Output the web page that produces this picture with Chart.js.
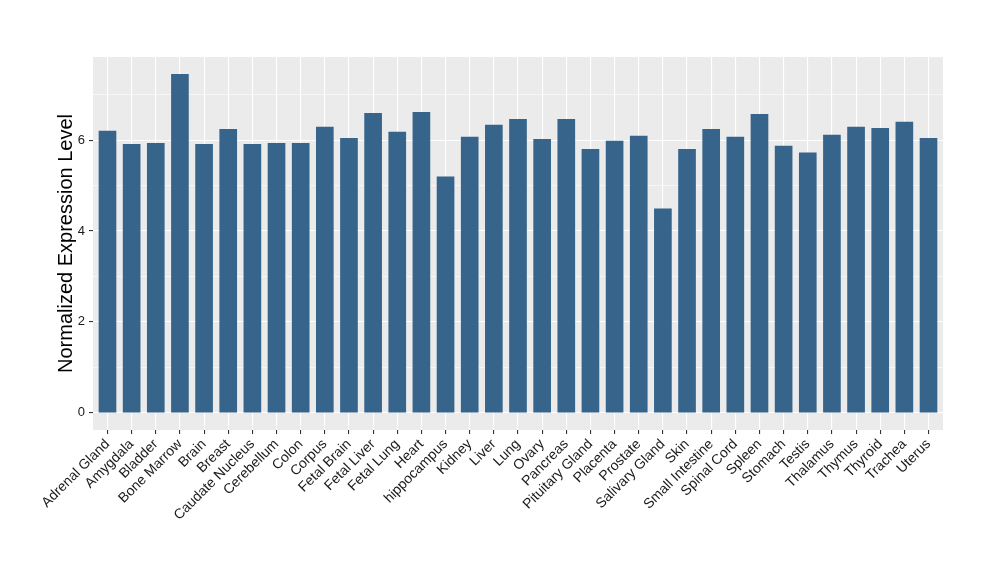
<!DOCTYPE html>
<html><head><meta charset="utf-8">
<script src="https://cdn.jsdelivr.net/npm/chart.js@4/dist/chart.umd.min.js"></script>
<style>html,body{margin:0;padding:0;background:#fff}#wrap{width:1000px;height:580px}</style>
</head><body><div id="wrap"><canvas id="c" width="1000" height="580"></canvas></div>
<script>
const categories = ["Adrenal Gland","Amygdala","Bladder","Bone Marrow","Brain","Breast","Caudate Nucleus","Cerebellum","Colon","Corpus","Fetal Brain","Fetal Liver","Fetal Lung","Heart","hippocampus","Kidney","Liver","Lung","Ovary","Pancreas","Pituitary Gland","Placenta","Prostate","Salivary Gland","Skin","Small Intestine","Spinal Cord","Spleen","Stomach","Testis","Thalamus","Thymus","Thyroid","Trachea","Uterus"];
const expression = [6.20,5.91,5.93,7.45,5.91,6.24,5.91,5.93,5.93,6.29,6.04,6.59,6.18,6.61,5.19,6.07,6.33,6.46,6.02,6.46,5.80,5.98,6.09,4.49,5.80,6.24,6.07,6.57,5.87,5.72,6.11,6.29,6.26,6.40,6.04];
const yTicks = [0,1,2,3,4,5,6,7];
const yLabelled = [0,2,4,6];

const panelBg = {
  id:'panelBg',
  beforeDraw(chart){
    const {ctx, chartArea:a} = chart;
    ctx.save(); ctx.fillStyle = '#EBEBEB';
    ctx.fillRect(a.left, a.top, a.right-a.left, a.bottom-a.top);
    ctx.restore();
  }
};

new Chart(document.getElementById('c'), {
  type:'bar',
  data:{ datasets:[{ data: expression.map((v,i)=>({x:i,y:v})), backgroundColor:'#36648B', borderWidth:0, barThickness:17 }] },
  options:{
    responsive:false, animation:false,
    layout:{padding:{top:57,right:57,left:0,bottom:0}},
    plugins:{legend:{display:false}, tooltip:{enabled:false}},
    scales:{
      x:{ type:'linear', offset:false, min:-0.6, max:categories.length-0.4,
        afterBuildTicks: ax => { ax.ticks = categories.map((_,i)=>({value:i})); },
        afterFit: ax => { ax.height = 150; },
        grid:{ offset:false, color:'#FFFFFF', lineWidth:1.1, tickColor:'#333333', tickLength:4, drawOnChartArea:true },
        border:{display:false},
        ticks:{ autoSkip:false, includeBounds:false, stepSize:1, maxRotation:45, minRotation:45, padding:2, color:'#1A1A1A',
          font:{family:'"Liberation Sans", Arial, sans-serif', size:14},
          callback: v => categories[v] }
      },
      y:{ type:'linear', min:-0.38, max:7.83,
        afterBuildTicks: ax => { ax.ticks = yTicks.map(v=>({value:v})); },
        afterFit: ax => { ax.width = 93; },
        grid:{ offset:false, color:'#FFFFFF', lineWidth: c => (c.tick && c.tick.value%2===0) ? 1.1 : 0.55,
          tickColor: c => (c.tick && c.tick.value%2===0) ? '#333333' : 'rgba(0,0,0,0)', tickLength:4 },
        border:{display:false},
        ticks:{ includeBounds:false, stepSize:1, padding:4, color:'#1A1A1A', font:{family:'"Liberation Sans", Arial, sans-serif', size:13},
          callback: v => yLabelled.includes(v) ? String(v) : '' },
        title:{ display:true, text:'Normalized Expression Level', color:'#000000',
          font:{family:'"Liberation Sans", Arial, sans-serif', size:20}, padding:{top:54,bottom:0} }
      }
    }
  },
  plugins:[panelBg]
});
</script></body></html>
